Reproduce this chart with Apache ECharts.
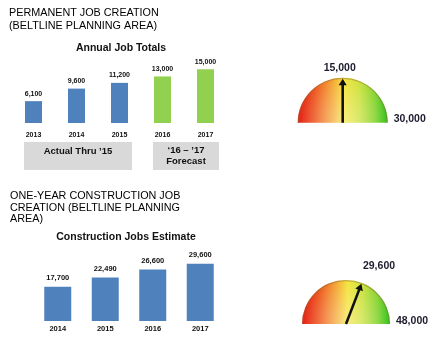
<!DOCTYPE html>
<html>
<head>
<meta charset="utf-8">
<script src="https://cdn.jsdelivr.net/npm/echarts@6/dist/echarts.min.js"></script>
<style>
  html, body { margin: 0; padding: 0; background: #fff; }
  #chart { width: 447px; height: 350px; }
</style>
</head>
<body>
<div id="chart"></div>
<script>
// Permanent job creation, Beltline planning area
const permYears = ['2013', '2014', '2015', '2016', '2017'];
const permJobs = [6100, 9600, 11200, 13000, 15000];
const permKind = ['actual', 'actual', 'actual', 'forecast', 'forecast'];
const permGaugeValue = 15000;
const permGaugeMax = 30000;

// One-year construction job creation, Beltline planning area
const consYears = ['2014', '2015', '2016', '2017'];
const consJobs = [17700, 22490, 26600, 29600];
const consGaugeValue = 29600;
const consGaugeMax = 48000;

const FONT = '"Liberation Sans", Arial, sans-serif';
const BLUE = '#4f81bd';
const GREEN = '#92d050';
const fmt = v => Number(v).toLocaleString('en-US');

const chart = echarts.init(document.getElementById('chart'));

function gaugeFill() {
  return new echarts.graphic.LinearGradient(0, 0, 1, 0, [
    { offset: 0, color: '#e41c14' },
    { offset: 0.2, color: '#ee5a22' },
    { offset: 0.38, color: '#f4a232' },
    { offset: 0.52, color: '#f4e43c' },
    { offset: 0.68, color: '#cde23e' },
    { offset: 0.86, color: '#86d434' },
    { offset: 1, color: '#2fc21c' }
  ]);
}

// soft highlight towards the hub, leaving the rim saturated
function gaugeSheen() {
  return new echarts.graphic.RadialGradient(0.5, 1, 1, [
    { offset: 0, color: 'rgba(255,255,255,0.35)' },
    { offset: 0.6, color: 'rgba(255,255,255,0.15)' },
    { offset: 1, color: 'rgba(255,255,255,0)' }
  ]);
}

function gauge(center, radius, value, max, detailOffset, titleOffset) {
  return {
    type: 'gauge',
    center: center,
    radius: radius,
    startAngle: 180,
    endAngle: 0,
    min: 0,
    max: max,
    splitNumber: 1,
    axisLine: { roundCap: false, lineStyle: { width: radius, color: [[1, gaugeFill()]] } },
    splitLine: { show: false },
    axisTick: { show: false },
    axisLabel: { show: false },
    anchor: { show: false },
    pointer: { show: false },
    title: {
      offsetCenter: titleOffset,
      fontFamily: FONT, fontSize: 10.5, fontWeight: 'bold', color: '#1c1c2e'
    },
    detail: {
      offsetCenter: detailOffset,
      formatter: v => fmt(v),
      fontFamily: FONT, fontSize: 10.5, fontWeight: 'bold', color: '#1c1c2e'
    },
    data: [{ value: value, name: fmt(max) }]
  };
}

// sheen, rim and needle drawn over the coloured face
function overlayGauge(center, radius, value, max) {
  return {
    type: 'gauge', center: center, radius: radius, startAngle: 180, endAngle: 0,
    min: 0, max: max, splitNumber: 1,
    axisLine: { lineStyle: { width: radius, color: [[1, gaugeSheen()]] } },
    splitLine: { show: false }, axisTick: { show: false }, axisLabel: { show: false },
    anchor: { show: false }, title: { show: false }, detail: { show: false },
    pointer: {
      icon: 'path://M5,0 L10,9 L6.6,9 L6.6,60 L3.4,60 L3.4,9 L0,9 Z',
      length: radius - 1,
      width: 8,
      itemStyle: { color: '#111111' }
    },
    data: [{ value: value }], silent: true
  };
}

function rimGauge(center, radius) {
  return {
    type: 'gauge', center: center, radius: radius, startAngle: 180, endAngle: 0,
    axisLine: { lineStyle: { width: 1.2, color: [[1, 'rgba(140,110,50,0.45)']] } },
    splitLine: { show: false }, axisTick: { show: false }, axisLabel: { show: false },
    pointer: { show: false }, anchor: { show: false }, title: { show: false }, detail: { show: false },
    data: [{ value: 0 }], silent: true
  };
}

const smallLabel = { fontFamily: FONT, fontSize: 7, fontWeight: 'bold', color: '#111' };

const option = {
  animation: false,
  textStyle: { fontFamily: FONT },
  title: [
    { text: 'PERMANENT JOB CREATION\n(BELTLINE PLANNING AREA)', left: 9, top: 6.5, padding: 0,
      textStyle: { fontFamily: FONT, fontSize: 10.8, fontWeight: 'normal', color: '#000', lineHeight: 13 } },
    { text: 'Annual Job Totals', left: 121, top: 43, padding: 0, textAlign: 'center',
      textStyle: { fontFamily: FONT, fontSize: 10.5, fontWeight: 'bold', color: '#111' } },
    { text: 'ONE-YEAR CONSTRUCTION JOB\nCREATION (BELTLINE PLANNING\nAREA)', left: 10, top: 190.5, padding: 0,
      textStyle: { fontFamily: FONT, fontSize: 10.8, fontWeight: 'normal', color: '#000', lineHeight: 11.6 } },
    { text: 'Construction Jobs Estimate', left: 126, top: 231.5, padding: 0, textAlign: 'center',
      textStyle: { fontFamily: FONT, fontSize: 10.5, fontWeight: 'bold', color: '#111' } }
  ],
  grid: [
    { left: 12, top: 63, width: 215, height: 60 },
    { left: 34, top: 256, width: 190, height: 65 }
  ],
  xAxis: [
    { gridIndex: 0, type: 'category', data: permYears,
      axisLine: { show: false }, axisTick: { show: false },
      axisLabel: Object.assign({ margin: 9 }, smallLabel) },
    { gridIndex: 1, type: 'category', data: consYears,
      axisLine: { show: false }, axisTick: { show: false },
      axisLabel: Object.assign({ margin: 4 }, smallLabel, { fontSize: 7.5 }) }
  ],
  yAxis: [
    { gridIndex: 0, type: 'value', min: 0, max: 16750, show: false, splitLine: { show: false } },
    { gridIndex: 1, type: 'value', min: 0, max: 33600, show: false, splitLine: { show: false } }
  ],
  series: [
    { type: 'bar', xAxisIndex: 0, yAxisIndex: 0, barWidth: 17,
      data: permJobs.map((v, i) => ({ value: v, itemStyle: { color: permKind[i] === 'forecast' ? GREEN : BLUE } })),
      label: Object.assign({ show: true, position: 'top', distance: 4, formatter: p => fmt(p.value) }, smallLabel) },
    { type: 'bar', xAxisIndex: 1, yAxisIndex: 1, barWidth: 27, itemStyle: { color: BLUE },
      data: consJobs,
      label: Object.assign({ show: true, position: 'top', distance: 5, formatter: p => fmt(p.value) }, smallLabel, { fontSize: 7.5 }) },
    gauge([342.7, 122.7], 45, permGaugeValue, permGaugeMax, [-3, -55], [67, -4]),
    rimGauge([342.7, 122.7], 45),
    overlayGauge([342.7, 122.7], 45, permGaugeValue, permGaugeMax),
    gauge([346, 324], 44, consGaugeValue, consGaugeMax, [33, -58], [66, -3]),
    rimGauge([346, 324], 44),
    overlayGauge([346, 324], 44, consGaugeValue, consGaugeMax)
  ],
  graphic: [
    { type: 'group', left: 24, top: 142, children: [
      { type: 'rect', shape: { x: 0, y: 0, width: 108, height: 28 }, style: { fill: '#d9d9d9' } },
      { type: 'text', x: 54, y: 9, style: { text: 'Actual Thru \u201915', fontFamily: FONT, fontSize: 9.5, fontWeight: 'bold',
        fill: '#111', align: 'center', verticalAlign: 'middle' } }
    ] },
    { type: 'group', left: 153, top: 142, children: [
      { type: 'rect', shape: { x: 0, y: 0, width: 66, height: 28 }, style: { fill: '#d9d9d9' } },
      { type: 'text', x: 33, y: 14, style: { text: '\u201816 \u2013 \u201917\nForecast', fontFamily: FONT, fontSize: 9.5, fontWeight: 'bold',
        lineHeight: 11.5, fill: '#111', align: 'center', verticalAlign: 'middle' } }
    ] }
  ]
};

chart.setOption(option);
</script>
</body>
</html>
